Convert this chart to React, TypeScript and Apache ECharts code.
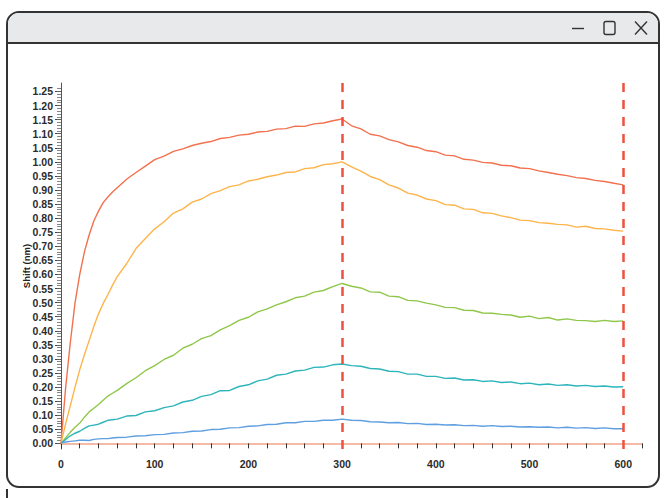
import React, { useEffect, useRef } from "react";
import * as echarts from "echarts";

const times = [0, 5, 10, 15, 20, 25, 30, 35, 40, 45, 50, 55, 60, 70, 80, 90, 100, 110, 120, 130, 140, 150, 160, 170, 180, 190, 200, 210, 220, 230, 240, 250, 260, 270, 280, 290, 300,
  310, 320, 330, 340, 350, 360, 370, 380, 390, 400, 410, 420, 430, 440, 450, 460, 470, 480, 490, 500, 510, 520, 530, 540, 550, 560, 570, 580, 590, 600];

const redVals = [0, 0.2, 0.36, 0.5, 0.6, 0.68, 0.74, 0.79, 0.825, 0.855, 0.875, 0.893, 0.908, 0.938, 0.962, 0.985, 1.008, 1.02, 1.037, 1.046, 1.058, 1.066, 1.072, 1.083, 1.087, 1.095, 1.098, 1.106, 1.108, 1.116, 1.118, 1.127, 1.126, 1.135, 1.138, 1.146, 1.152,
  1.128, 1.117, 1.098, 1.092, 1.079, 1.071, 1.058, 1.052, 1.04, 1.036, 1.024, 1.021, 1.009, 1.006, 0.998, 0.996, 0.988, 0.986, 0.978, 0.976, 0.968, 0.962, 0.956, 0.951, 0.944, 0.941, 0.934, 0.93, 0.924, 0.918];

const orangeVals = [0, 0.07, 0.135, 0.2, 0.262, 0.315, 0.365, 0.415, 0.46, 0.497, 0.528, 0.562, 0.592, 0.638, 0.692, 0.728, 0.762, 0.787, 0.818, 0.833, 0.857, 0.868, 0.887, 0.898, 0.912, 0.918, 0.932, 0.938, 0.947, 0.953, 0.962, 0.964, 0.976, 0.979, 0.99, 0.993, 1.0,
  0.982, 0.967, 0.948, 0.937, 0.918, 0.907, 0.889, 0.882, 0.868, 0.862, 0.848, 0.846, 0.833, 0.831, 0.819, 0.817, 0.808, 0.802, 0.793, 0.791, 0.784, 0.782, 0.778, 0.776, 0.768, 0.771, 0.763, 0.762, 0.757, 0.754];

const greenVals = [0, 0.02, 0.04, 0.057, 0.072, 0.093, 0.112, 0.125, 0.138, 0.153, 0.168, 0.178, 0.188, 0.212, 0.233, 0.258, 0.276, 0.298, 0.313, 0.338, 0.352, 0.372, 0.383, 0.403, 0.418, 0.437, 0.448, 0.467, 0.478, 0.492, 0.503, 0.517, 0.523, 0.537, 0.543, 0.557, 0.568,
  0.558, 0.552, 0.538, 0.537, 0.523, 0.521, 0.508, 0.506, 0.498, 0.492, 0.483, 0.482, 0.473, 0.472, 0.463, 0.462, 0.458, 0.456, 0.448, 0.452, 0.443, 0.447, 0.438, 0.442, 0.437, 0.436, 0.433, 0.437, 0.433, 0.435];

const tealVals = [0, 0.014, 0.027, 0.036, 0.043, 0.053, 0.062, 0.065, 0.068, 0.075, 0.082, 0.084, 0.086, 0.097, 0.099, 0.112, 0.116, 0.127, 0.133, 0.147, 0.153, 0.167, 0.173, 0.187, 0.188, 0.202, 0.208, 0.222, 0.228, 0.242, 0.246, 0.257, 0.26, 0.27, 0.271, 0.279, 0.282,
  0.276, 0.274, 0.266, 0.264, 0.256, 0.255, 0.246, 0.246, 0.238, 0.238, 0.231, 0.232, 0.225, 0.226, 0.22, 0.222, 0.216, 0.218, 0.212, 0.214, 0.208, 0.211, 0.206, 0.208, 0.204, 0.206, 0.202, 0.204, 0.2, 0.201];

const blueVals = [0.002, 0.005, 0.007, 0.009, 0.011, 0.011, 0.01, 0.014, 0.016, 0.017, 0.017, 0.019, 0.021, 0.022, 0.026, 0.027, 0.031, 0.032, 0.037, 0.038, 0.043, 0.044, 0.049, 0.05, 0.055, 0.056, 0.061, 0.062, 0.067, 0.068, 0.073, 0.073, 0.078, 0.078, 0.082, 0.082, 0.086,
  0.082, 0.081, 0.077, 0.076, 0.073, 0.074, 0.07, 0.071, 0.067, 0.068, 0.065, 0.066, 0.063, 0.064, 0.061, 0.063, 0.06, 0.061, 0.058, 0.059, 0.057, 0.058, 0.055, 0.057, 0.054, 0.056, 0.053, 0.055, 0.052, 0.052];

const seriesNames = ["c1", "c2", "c3", "c4", "c5"];
const seriesColors = ["#f2714f", "#fdb44b", "#8fc74a", "#2eb5bb", "#5f9fe0"];
const seriesValues = [redVals, orangeVals, greenVals, tealVals, blueVals];

const yTickLabels = [0, 0.05, 0.1, 0.15, 0.2, 0.25, 0.3, 0.35, 0.4, 0.45, 0.5, 0.55, 0.6, 0.65, 0.7, 0.75, 0.8, 0.85, 0.9, 0.95, 1.0, 1.05, 1.1, 1.15, 1.2, 1.25];
const xTickLabels = [0, 100, 200, 300, 400, 500, 600];
const phaseMarks = [300, 600];
const yAxisName = "Shift (nm)";

export default function App() {
  const ref = useRef<HTMLDivElement>(null);
  useEffect(() => {
    if (!ref.current) return;
    const chart = echarts.init(ref.current, undefined, { renderer: "svg" });
    const labelFont = { fontFamily: "Liberation Sans, Arial, sans-serif", fontWeight: "bold" as const, fontSize: 10.5, color: "#2b2b2b" };
    const minorTicks: number[] = [];
    for (let i = 0; i <= 126; i++) minorTicks.push(i / 100);
    const series: any[] = seriesValues.map((vals, i) => ({
      name: seriesNames[i],
      type: "line",
      showSymbol: false,
      symbol: "none",
      xAxisIndex: 0,
      yAxisIndex: 0,
      lineStyle: { color: seriesColors[i], width: 1.4 },
      itemStyle: { color: seriesColors[i] },
      data: times.map((t, j) => [t, vals[j]]),
      z: 3,
    }));
    series[0].markLine = {
      silent: true,
      symbol: "none",
      label: { show: false },
      lineStyle: { color: "#f0503f", width: 2.5, type: [9, 8] },
      data: phaseMarks.map((v) => ({ xAxis: v })),
      z: 5,
    };
    const option: any = {
      animation: false,
      backgroundColor: "#ffffff",
      grid: { left: 61, right: 24, top: 83, bottom: 49, containLabel: false },
      xAxis: [{
        type: "value",
        min: 0,
        max: 620,
        interval: 20,
        axisLine: { show: true, lineStyle: { color: "#f0a58a", width: 1.5 } },
        axisTick: { show: true, length: 5, lineStyle: { color: "#333", width: 1 } },
        axisLabel: { ...labelFont, margin: 9, customValues: xTickLabels, formatter: (v: number) => String(v) },
        splitLine: { show: false },
      }],
      yAxis: [
        {
          type: "value",
          min: -0.02,
          max: 1.28,
          position: "left",
          name: yAxisName,
          nameLocation: "middle",
          nameGap: 30,
          nameRotate: 90,
          nameMoveOverlap: false,
          nameTextStyle: { fontFamily: "Liberation Sans, Arial, sans-serif", fontWeight: "bold", fontSize: 9.5, color: "#222" },
          axisLine: { show: true, lineStyle: { color: "#555", width: 1 } },
          axisTick: { show: true, length: 6, customValues: yTickLabels, lineStyle: { color: "#444", width: 1 } },
          axisLabel: { ...labelFont, margin: 8, customValues: yTickLabels, formatter: (v: number) => v.toFixed(2) },
          splitLine: { show: false },
        },
        {
          type: "value",
          min: -0.02,
          max: 1.28,
          position: "left",
          axisLine: { show: false },
          axisTick: { show: true, length: 4, customValues: minorTicks, lineStyle: { color: "#666", width: 0.8 } },
          axisLabel: { show: false },
          splitLine: { show: false },
        },
      ],
      graphic: [
        { type: "rect", z: -10, shape: { x: 7, y: 12, width: 652, height: 475, r: 12 }, style: { fill: "#ffffff", stroke: "#333", lineWidth: 2 } },
        { type: "rect", z: -9, shape: { x: 8, y: 13, width: 650, height: 30, r: [11, 11, 0, 0] }, style: { fill: "#e8e9eb" } },
        { type: "line", z: -8, shape: { x1: 7, y1: 43, x2: 659, y2: 43 }, style: { stroke: "#333", lineWidth: 2 } },
        { type: "line", z: -8, shape: { x1: 572, y1: 28.5, x2: 584, y2: 28.5 }, style: { stroke: "#333", lineWidth: 1.4 } },
        { type: "rect", z: -8, shape: { x: 604, y: 21.5, width: 11, height: 13, r: 2 }, style: { fill: "none", stroke: "#333", lineWidth: 1.4 } },
        { type: "line", z: -8, shape: { x1: 635, y1: 21.5, x2: 647, y2: 34.5 }, style: { stroke: "#333", lineWidth: 1.4 } },
        { type: "line", z: -8, shape: { x1: 647, y1: 21.5, x2: 635, y2: 34.5 }, style: { stroke: "#333", lineWidth: 1.4 } },
        { type: "line", z: -8, shape: { x1: 7, y1: 489, x2: 7, y2: 498 }, style: { stroke: "#333", lineWidth: 2 } },
      ],
      series,
    };
    chart.setOption(option);
    return () => chart.dispose();
  }, []);
  return <div ref={ref} style={{ position: "absolute", left: 0, top: 0, width: 666, height: 498 }} />;
}
